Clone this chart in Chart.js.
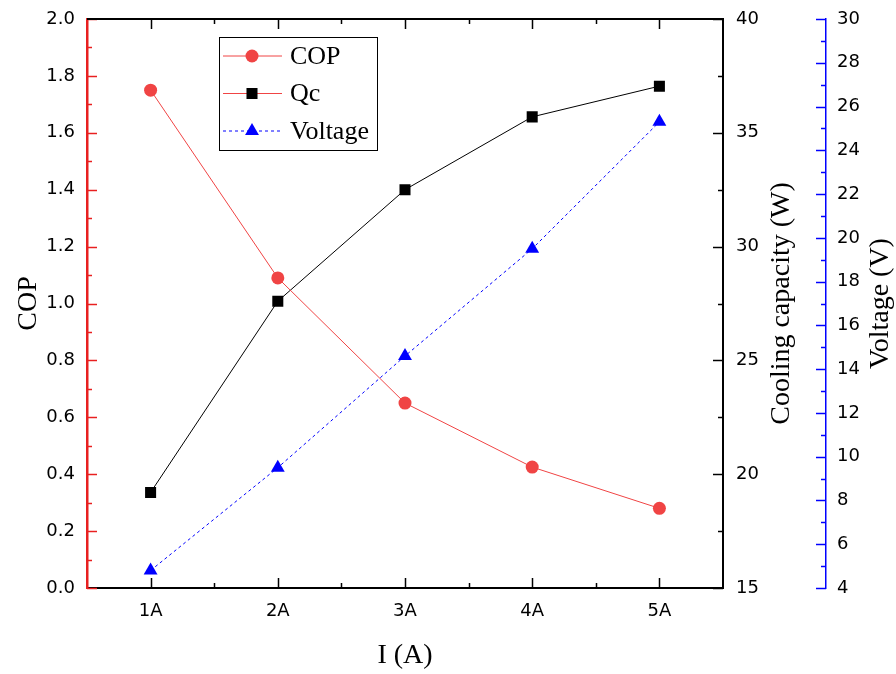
<!DOCTYPE html>
<html lang="en">
<head>
    <meta charset="UTF-8">
    <title>COP, cooling capacity and voltage vs current</title>
    <script src="https://cdn.jsdelivr.net/npm/chart.js"></script>
    <style>
        body {
            margin: 0;
            padding: 0;
            background-color: #ffffff;
            overflow: hidden;
        }
        canvas {
            display: block;
        }
    </style>
</head>
<body>
    <canvas id="myChart" width="896" height="674"></canvas>

    <script>
        // data
        const categories = ['1A', '2A', '3A', '4A', '5A'];
        const copValues = [1.75, 1.09, 0.65, 0.425, 0.28];
        const qcValues = [19.2, 27.6, 32.5, 35.7, 37.05];
        const voltageValues = [4.8, 9.5, 14.6, 19.5, 25.3];

        const copRange = [0, 2, 0.2];      // min, max, step
        const qcRange = [15, 40, 5];
        const voltageRange = [4, 30, 2];

        const RED = 'rgb(240, 68, 68)';
        const BLUE = '#0000ff';
        const tickFont = { family: 'DejaVu Sans', size: 18 };
        const titleFont = '28px "Liberation Serif"';

        // ticks pointing into the plot (major + minor), like the original
        const insideTicks = {
            id: 'insideTicks',
            afterDraw(chart) {
                const ctx = chart.ctx;
                const area = chart.chartArea;

                function yTicks(scale, range, edge, dir, color, width) {
                    const minor = range[2] / 2;
                    const n = Math.round((range[1] - range[0]) / minor);
                    ctx.save();
                    ctx.strokeStyle = color;
                    ctx.lineWidth = width;
                    for (let i = 0; i <= n; i++) {
                        const y = Math.round(scale.getPixelForValue(range[0] + i * minor)) + 0.5;
                        const len = i % 2 === 0 ? 10 : 5;
                        ctx.beginPath();
                        ctx.moveTo(edge, y);
                        ctx.lineTo(edge + dir * len, y);
                        ctx.stroke();
                    }
                    ctx.restore();
                }

                yTicks(chart.scales.y, copRange, area.left, 1, '#e82020', 1.5);
                yTicks(chart.scales.y1, qcRange, area.right, -1, '#000', 1.5);
                yTicks(chart.scales.y2, voltageRange, chart.scales.y2.left, -1, BLUE, 1.5);

                // top frame line and category ticks on top and bottom
                const xs = chart.scales.x;
                ctx.save();
                ctx.strokeStyle = '#000';
                ctx.lineWidth = 2;
                ctx.beginPath();
                ctx.moveTo(area.left, area.top);
                ctx.lineTo(area.right, area.top);
                ctx.stroke();
                ctx.lineWidth = 1.5;
                for (let i = 0; i < categories.length; i++) {
                    [0, 0.5].forEach(off => {
                        if (i + off > categories.length - 1) return;
                        const x = Math.round(xs.getPixelForValue(i + off)) + 0.5;
                        const len = off === 0 ? 10 : 5;
                        ctx.beginPath();
                        ctx.moveTo(x, area.bottom);
                        ctx.lineTo(x, area.bottom - len);
                        ctx.moveTo(x, area.top);
                        ctx.lineTo(x, area.top + len);
                        ctx.stroke();
                    });
                }
                ctx.restore();
            }
        };

        // axis titles (right ones read bottom to top, as in the original)
        const axisTitles = {
            id: 'axisTitles',
            afterDraw(chart) {
                const ctx = chart.ctx;
                const area = chart.chartArea;
                const midY = (area.top + area.bottom) / 2;
                ctx.save();
                ctx.fillStyle = '#000';
                ctx.font = titleFont;
                ctx.textAlign = 'center';
                ctx.textBaseline = 'middle';
                [['COP', 29], ['Cooling capacity (W)', 782], ['Voltage (V)', 881]].forEach(([text, x]) => {
                    ctx.save();
                    ctx.translate(x, midY);
                    ctx.rotate(-Math.PI / 2);
                    ctx.fillText(text, 0, 0);
                    ctx.restore();
                });
                ctx.fillText('I (A)', (area.left + area.right) / 2, 656);
                ctx.restore();
            }
        };

        // boxed legend in the upper left of the plot
        const boxLegend = {
            id: 'boxLegend',
            afterDraw(chart) {
                const ctx = chart.ctx;
                const left = 219, top = 37, w = 158, h = 113;
                ctx.save();
                ctx.fillStyle = '#fff';
                ctx.fillRect(left, top, w, h);
                ctx.strokeStyle = '#000';
                ctx.lineWidth = 1;
                ctx.strokeRect(left + 0.5, top + 0.5, w, h);
                const rows = [
                    { label: 'COP', line: RED, dash: [], ds: 0 },
                    { label: 'Qc', line: RED, dash: [], ds: 1 },
                    { label: 'Voltage', line: BLUE, dash: [3, 3], ds: 2 }
                ];
                rows.forEach((r, i) => {
                    const y = top + 19 + i * 37.5;
                    const pt = chart.data.datasets[r.ds];
                    ctx.strokeStyle = r.line;
                    ctx.lineWidth = 1;
                    ctx.setLineDash(r.dash);
                    ctx.beginPath();
                    ctx.moveTo(left + 4, y);
                    ctx.lineTo(left + 63, y);
                    ctx.stroke();
                    ctx.setLineDash([]);
                    ctx.fillStyle = pt.pointBackgroundColor;
                    Chart.helpers.drawPoint(ctx, {
                        pointStyle: pt.pointStyle,
                        radius: pt.pointRadius,
                        borderWidth: 0
                    }, left + 33, y);
                    ctx.fillStyle = '#000';
                    ctx.font = '26px "Liberation Serif"';
                    ctx.textAlign = 'left';
                    ctx.textBaseline = 'middle';
                    ctx.fillText(r.label, left + 71, y + 1);
                });
                ctx.restore();
            }
        };

        const ctx = document.getElementById('myChart').getContext('2d');
        new Chart(ctx, {
            type: 'line',
            data: {
                labels: categories,
                datasets: [
                    {
                        label: 'COP',
                        data: copValues,
                        yAxisID: 'y',
                        borderColor: RED,
                        borderWidth: 1,
                        pointStyle: 'circle',
                        pointRadius: 6.5,
                        pointBorderWidth: 0,
                        pointBackgroundColor: RED
                    },
                    {
                        label: 'Qc',
                        data: qcValues,
                        yAxisID: 'y1',
                        borderColor: '#000',
                        borderWidth: 1,
                        pointStyle: 'rect',
                        pointRadius: 7.8,
                        pointBorderWidth: 0,
                        pointBackgroundColor: '#000'
                    },
                    {
                        label: 'Voltage',
                        data: voltageValues,
                        yAxisID: 'y2',
                        borderColor: BLUE,
                        borderWidth: 1,
                        borderDash: [3, 3],
                        pointStyle: 'triangle',
                        pointRadius: 8,
                        pointBorderWidth: 0,
                        pointBackgroundColor: BLUE
                    }
                ]
            },
            options: {
                responsive: false,
                animation: false,
                devicePixelRatio: 1,
                layout: { padding: { top: 19, left: 0, right: 0, bottom: 0 } },
                plugins: {
                    legend: { display: false },
                    tooltip: { enabled: false }
                },
                scales: {
                    x: {
                        offset: true,
                        grid: { display: false },
                        border: { display: true, color: '#000', width: 2 },
                        ticks: { color: '#000', font: tickFont, padding: 5, maxRotation: 0 },
                        afterFit: s => { s.height = 86; }
                    },
                    y: {
                        position: 'left',
                        min: copRange[0],
                        max: copRange[1],
                        grid: { display: false },
                        border: { display: true, color: '#e82020', width: 2.5 },
                        ticks: {
                            stepSize: copRange[2],
                            color: '#000',
                            font: tickFont,
                            padding: 4,
                            callback: v => v.toFixed(1)
                        },
                        afterFit: s => { s.width = 87; }
                    },
                    y1: {
                        position: 'right',
                        weight: 0,
                        min: qcRange[0],
                        max: qcRange[1],
                        grid: { display: false },
                        border: { display: true, color: '#000', width: 2 },
                        ticks: { stepSize: qcRange[2], color: '#000', font: tickFont, padding: 5 },
                        afterFit: s => { s.width = 103; }
                    },
                    y2: {
                        position: 'right',
                        weight: 1,
                        min: voltageRange[0],
                        max: voltageRange[1],
                        grid: { display: false },
                        border: { display: true, color: BLUE, width: 1.5 },
                        ticks: { stepSize: voltageRange[2], color: '#000', font: tickFont, padding: 3 },
                        afterFit: s => { s.width = 70; }
                    }
                }
            },
            plugins: [insideTicks, axisTitles, boxLegend]
        });
    </script>
</body>
</html>
